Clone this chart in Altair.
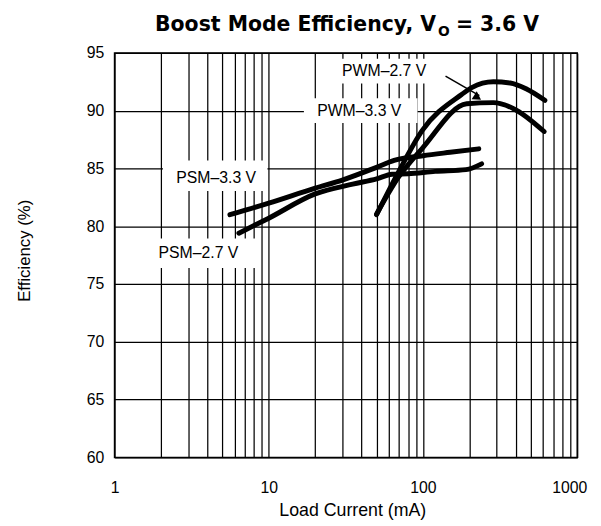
import altair as alt
import pandas as pd

# ---- data ----
psm33_x = [5.6, 10, 20, 30, 50, 65, 100, 150, 230]
psm33_y = [81.0, 82.0, 83.3, 84.0, 85.1, 85.7, 86.1, 86.4, 86.7]

psm27_x = [6.4, 10, 20, 35, 50, 63, 80, 120, 190, 240]
psm27_y = [79.4, 80.7, 82.8, 83.65, 84.1, 84.5, 84.55, 84.75, 84.9, 85.4]

pwm27_x = [50, 70, 99, 178, 207, 286, 368, 466, 617]
pwm27_y = [81.0, 84.8, 88.3, 91.4, 92.0, 92.5, 92.4, 91.9, 90.9]

pwm33_x = [50, 69, 99, 192, 286, 384, 610]
pwm33_y = [81.05, 84.2, 86.75, 90.6, 90.7, 90.2, 88.2]

x_ticks = [1, 2, 3, 4, 5, 6, 7, 8, 9,
           10, 20, 30, 40, 50, 60, 70, 80, 90,
           100, 200, 300, 400, 500, 600, 700, 800, 900, 1000]
y_ticks = [60, 65, 70, 75, 80, 85, 90, 95]

# label annotations: text, centre, and white background box
ann_text = ["PWM–2.7 V", "PWM–3.3 V", "PSM–3.3 V", "PSM–2.7 V"]
ann_x = [56.0, 38.6, 4.56, 3.5]
ann_y = [93.4, 90.0, 84.2, 77.7]
box_x1 = [25.9, 16.9, 2.06, 1.65]
box_x2 = [111.5, 92.1, 9.8, 8.47]
box_y1 = [94.49, 91.07, 85.69, 78.95]
box_y2 = [92.35, 88.94, 83.05, 76.39]

arrow_x = [140]
arrow_y = [93.0]
arrow_x2 = [232]
arrow_y2 = [91.3]
head_x = [226]
head_y = [91.15]

rows = []
for name, xs, ys in [("PSM-3.3 V", psm33_x, psm33_y), ("PSM-2.7 V", psm27_x, psm27_y),
                     ("PWM-2.7 V", pwm27_x, pwm27_y), ("PWM-3.3 V", pwm33_x, pwm33_y)]:
    for i, (a, b) in enumerate(zip(xs, ys)):
        rows.append({"series": name, "current": a, "eff": b, "i": i})
df = pd.DataFrame(rows)

ann = pd.DataFrame({"text": ann_text, "x": ann_x, "y": ann_y,
                    "bx1": box_x1, "bx2": box_x2, "by1": box_y1, "by2": box_y2})
arrow = pd.DataFrame({"x": arrow_x, "y": arrow_y, "x2": arrow_x2, "y2": arrow_y2})
head = pd.DataFrame({"x": head_x, "y": head_y})

FONT = "Liberation Sans"
xscale = alt.Scale(type="log", domain=[1, 1000], nice=False)
yscale = alt.Scale(domain=[60, 95], nice=False, zero=False)

xaxis = alt.Axis(values=x_ticks, format="d",
                 labelExpr="(datum.value==1||datum.value==10||datum.value==100||datum.value==1000) ? datum.label : ''",
                 labelOffset=alt.ExprRef("datum.value == 1000 ? -8 : 0"),
                 grid=True, gridColor="black", gridWidth=1.25, gridOpacity=1,
                 ticks=False, domain=False, labelFlush=False, labelOverlap=False,
                 labelFont=FONT, labelFontSize=16, labelColor="black", labelPadding=23,
                 title="Load Current (mA)", titleFont=FONT, titleFontSize=18,
                 titleFontWeight="normal", titleColor="black",
                 titleX=241, titleY=59, titleBaseline="alphabetic", titleAnchor="middle")
yaxis = alt.Axis(values=y_ticks, grid=True, gridColor="black", gridWidth=1.25, gridOpacity=1,
                 ticks=False, domain=False, labelFont=FONT, labelFontSize=16,
                 labelColor="black", labelPadding=11,
                 title="Efficiency (%)", titleFont=FONT, titleFontSize=17,
                 titleFontWeight="normal", titleColor="black",
                 titleAngle=-90, titleX=-86, titleY=200, titleBaseline="alphabetic",
                 titleAlign="center")

X = lambda f: alt.X(f, type="quantitative", scale=xscale, axis=xaxis)
Y = lambda f: alt.Y(f, type="quantitative", scale=yscale, axis=yaxis)

boxes = alt.Chart(ann).mark_rect(fill="white", stroke=None).encode(
    x=X("bx1"), x2="bx2", y=Y("by1"), y2="by2")

lines = alt.Chart(df).mark_line(color="black", strokeWidth=5, strokeCap="round",
                                strokeJoin="round", interpolate="monotone").encode(
    x=X("current"), y=Y("eff"), detail="series:N", order="i:Q")

labels = alt.Chart(ann).mark_text(font=FONT, fontSize=16, color="black",
                                  align="center", baseline="middle").encode(
    x=X("x"), y=Y("y"), text="text:N")

arrow_line = alt.Chart(arrow).mark_rule(color="black", strokeWidth=1.5).encode(
    x=X("x"), y=Y("y"), x2="x2", y2="y2")
arrow_head = alt.Chart(head).mark_point(shape="triangle-right", filled=True,
                                        color="black", size=90, angle=33, opacity=1).encode(
    x=X("x"), y=Y("y"))

one = pd.DataFrame({"k": [0]})
t1 = alt.Chart(one).mark_text(text="Boost Mode Efficiency, V", font="DejaVu Sans",
                              fontWeight="bold", fontSize=20.7, align="right",
                              baseline="alphabetic", color="black").encode(
    x=alt.value(326), y=alt.value(-22))
t2 = alt.Chart(one).mark_text(text="O", font="DejaVu Sans", fontWeight="bold",
                              fontSize=14, align="left", baseline="alphabetic",
                              color="black").encode(x=alt.value(328), y=alt.value(-17))
t3 = alt.Chart(one).mark_text(text="= 3.6 V", font="DejaVu Sans", fontWeight="bold",
                              fontSize=20.7, align="left", baseline="alphabetic",
                              color="black").encode(x=alt.value(346), y=alt.value(-22))

chart = alt.layer(boxes, lines, arrow_line, arrow_head, labels, t1, t2, t3).properties(
    width=469, height=410,
    autosize=alt.AutoSizeParams(type="none"),
    padding={"left": 108, "top": 42, "right": 16, "bottom": 66},
    background="white",
).configure_view(stroke="black", strokeWidth=1.5)

chart.save("out.html", embed_options={"renderer": "svg", "actions": False})
